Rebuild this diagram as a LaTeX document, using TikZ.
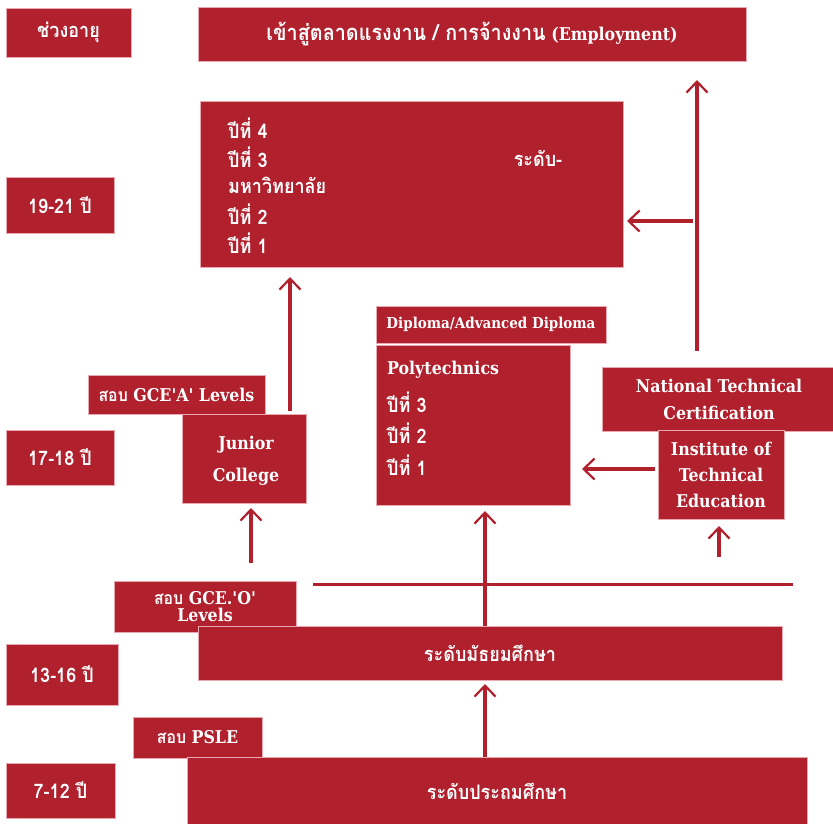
\documentclass[tikz,border=0pt]{standalone}
\usepackage{fontspec}
\newfontfamily\eng{DejaVu Serif Condensed}
\newfontfamily\thai[Script=Thai,FakeStretch=0.9]{Loma}
\usetikzlibrary{arrows.meta}
\definecolor{brick}{RGB}{176,32,45}
\definecolor{edgepink}{RGB}{232,170,176}
\newcommand{\thtxt}[1]{{\thai #1}}
\begin{document}
\begin{tikzpicture}[x=1pt,y=-1pt,
  box/.style={fill=brick, draw=edgepink, line width=0.7pt, inner sep=0pt, text=white, align=center,
    font=\eng\bfseries\fontsize{17.6}{20}\selectfont},
  thbox/.style={box, font=\thai\bfseries\fontsize{20}{22}\selectfont},
  txt/.style={text=white, inner sep=0pt, anchor=west, font=\thai\bfseries\fontsize{20}{22}\selectfont},
  lbl/.style={text=white, inner sep=0pt, align=center, font=\eng\bfseries\fontsize{17.6}{20}\selectfont},
  arr/.style={draw=brick, line width=3.5pt, -{Straight Barb[length=11pt,width=21pt,line width=2.2pt]}},
  plain/.style={draw=brick, line width=3pt},
]
\useasboundingbox (0,0) rectangle (833,823);
% boxes (drawing order matters for overlaps)
\node[thbox, minimum width=125pt, minimum height=49pt] (age) at (68.5,32.5) {ช่วงอายุ};
\node[box, minimum width=548pt, minimum height=54pt] (emp) at (472,34) {{\thai\fontsize{22}{24}\selectfont เข้าสู่ตลาดแรงงาน / การจ้างงาน} (Employment)};
\node[box, minimum width=423pt, minimum height=166pt] (uni) at (411.5,184) {};
\node[thbox, minimum width=108pt, minimum height=56pt] (y1921) at (60,205) {19-21 ปี};
\node[box, minimum width=177pt, minimum height=39pt] (gcea) at (176.5,394.5) {\thtxt{สอบ} GCE'A' Levels};
\node[box, minimum width=124pt, minimum height=89pt] (jc) at (244,458.5) {};
\node[lbl] (jc1) at (246,445) {Junior};
\node[lbl] (jc2) at (246,477) {College};
\node[thbox, minimum width=108pt, minimum height=55pt] (y1718) at (60,457.5) {17-18 ปี};
\node[box, minimum width=230pt, minimum height=37pt, font=\eng\bfseries\fontsize{15}{17}\selectfont] (dip) at (491,324.5) {Diploma/Advanced Diploma};
\node[box, minimum width=194pt, minimum height=160pt] (poly) at (473,425) {};
\node[box, minimum width=234pt, minimum height=64pt, font=\eng\bfseries\fontsize{17.6}{27}\selectfont] (ntc) at (719,399) {National Technical\\Certification};
\node[box, minimum width=126pt, minimum height=89pt, font=\eng\bfseries\fontsize{17.6}{26}\selectfont] (ite) at (721,474.5) {Institute of\\Technical\\Education};
\node[box, minimum width=182pt, minimum height=51pt, font=\eng\bfseries\fontsize{17.6}{16.5}\selectfont] (gceo) at (205,606.5) {\thtxt{สอบ} GCE.'O'\\Levels};
\node[thbox, minimum width=584pt, minimum height=54pt] (sec) at (490,653) {ระดับมัธยมศึกษา};
\node[thbox, minimum width=112pt, minimum height=61pt] (y1316) at (62,674.5) {13-16 ปี};
\node[box, minimum width=129pt, minimum height=41pt] (psle) at (197.5,737.5) {\thtxt{สอบ} PSLE};
\node[thbox, minimum width=620pt, minimum height=68pt] (prim) at (497,791) {ระดับประถมศึกษา};
\node[thbox, minimum width=109pt, minimum height=55pt] (y712) at (60.5,790.5) {7-12 ปี};
% text inside university box
\node[txt] (u4) at (228,128) {ปีที่ 4};
\node[txt] (u3) at (228,157) {ปีที่ 3};
\node[txt] (u0) at (228,185) {มหาวิทยาลัย};
\node[txt] (u2) at (228,214) {ปีที่ 2};
\node[txt] (u1) at (228,243) {ปีที่ 1};
\node[txt, anchor=center] (lvl) at (538,158) {ระดับ-};
% text inside polytechnic box
\node[txt, font=\eng\bfseries\fontsize{17.6}{20}\selectfont] (p0) at (387,370) {Polytechnics};
\node[txt] (p3) at (387,402) {ปีที่ 3};
\node[txt] (p2) at (387,433) {ปีที่ 2};
\node[txt] (p1) at (387,465) {ปีที่ 1};
% connector points
\coordinate (a1s) at (697,351); \coordinate (a1e) at (697,80);
\coordinate (a2s) at (693,221); \coordinate (a2e) at (627,221);
\coordinate (a3s) at (290,411); \coordinate (a3e) at (290,277);
\coordinate (a4s) at (251,563); \coordinate (a4e) at (251,508);
\coordinate (a5e) at (485,511);
\coordinate (hl1) at (313,584); \coordinate (hl2) at (793,584);
\coordinate (a6s) at (655,469); \coordinate (a6e) at (582,469);
\coordinate (a7s) at (719,557); \coordinate (a7e) at (719,526);
\coordinate (a8e) at (485,684);
% connectors
\draw[plain] (hl1) -- (hl2);
\draw[arr] (a1s) -- (a1e);
\draw[arr] (a2s) -- (a2e);
\draw[arr] (a3s) -- (a3e);
\draw[arr] (a4s) -- (a4e);
\draw[arr] (sec.north -| a5e) -- (a5e);
\draw[arr] (a6s) -- (a6e);
\draw[arr] (a7s) -- (a7e);
\draw[arr] (prim.north -| a8e) -- (a8e);
\end{tikzpicture}
\end{document}
